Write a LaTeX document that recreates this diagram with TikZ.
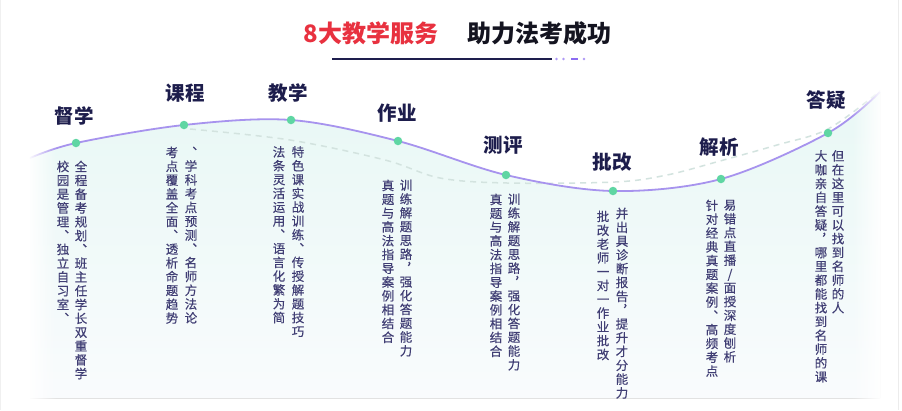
\documentclass[tikz,border=0pt]{standalone}
\usepackage{fontspec}
\setmainfont{Noto Sans CJK SC}
\newfontfamily\vertfont[RawFeature=+vert, FakeBold=0.35]{Noto Sans CJK SC}
\usetikzlibrary{fadings}
\definecolor{titlered}{HTML}{E8313F}
\definecolor{titleblack}{HTML}{141420}
\definecolor{navy}{HTML}{1E1E4E}
\definecolor{labelcol}{HTML}{1D1D4C}
\definecolor{desccol}{HTML}{403E74}
\definecolor{curvecol}{HTML}{A793EE}
\definecolor{dotcol}{HTML}{5FD6A3}
\definecolor{dashcol}{HTML}{D3E3DF}
\definecolor{accent}{HTML}{8C6CF2}
\definecolor{glowtop}{HTML}{E8F8F5}
\definecolor{glowmid}{HTML}{F1FAF9}
\definecolor{glowbot}{HTML}{F9FBFD}

\tikzfading[name=fadeoutright, left color=transparent!0, right color=transparent!100]
\tikzfading[name=fadeoutleft, left color=transparent!100, right color=transparent!0]

\ExplSyntaxOn
\NewDocumentCommand\vcol{m}{
  \vbox{
    \vertfont
    \skip_set:Nn \baselineskip {13.8pt}
    \dim_set:Nn \lineskiplimit {-20pt}
    \tl_map_inline:nn {#1}
      {
        \hbox_to_wd:nn {12.5pt} { \rule[-2.5pt]{0pt}{12.5pt} \hss ##1 \hss }
      }
  }
}
\ExplSyntaxOff

\tikzset{
  title/.style={font=\fontsize{24}{26}\selectfont\bfseries, inner sep=0pt},
  steplabel/.style={font=\fontsize{19.5}{22}\selectfont\bfseries, text=labelcol, inner sep=0pt},
  dotnode/.style={circle, fill=dotcol, minimum size=8.5pt, inner sep=0pt},
  desc/.style={font=\fontsize{12.5}{13.8}\selectfont, text=desccol, inner sep=0pt, anchor=north},
}

\begin{document}
\begin{tikzpicture}[x=1pt,y=-1pt]
\useasboundingbox (0,0) rectangle (902,410);
\fill[white] (0,0) rectangle (902,410);
\draw[gray!12, line width=1pt] (0.5,0) -- (0.5,410);
\draw[gray!15, line width=1pt] (898,0) -- (898,410);

% title
\node[title, text=titlered] (t1) at (371,33) {8大教学服务};
\node[title, text=titleblack] (t2) at (539,33) {助力法考成功};
\coordinate (u1) at (332,59);
\coordinate (u2) at (552,59);
\draw[navy, line width=2.6pt] (u1) -- (u2);
\fill[accent!70] (556.5,59) circle (1.3);
\fill[accent!70] (563.5,59) circle (1.3);
\draw[accent, line width=2.4pt] (571,59) -- (578,59);
\fill[accent!70] (584,59) circle (1.3);

% coordinates of curve
\coordinate (c0) at (30,158);
\coordinate (c9) at (880,92);
\coordinate (p1) at (76,143);
\coordinate (p2) at (184,125);
\coordinate (p3) at (291,120);
\coordinate (p4) at (398,141);
\coordinate (p5) at (506,175);
\coordinate (p6) at (613,191);
\coordinate (p7) at (721,179);
\coordinate (p8) at (828,133);

% glow under the curve
\fill[top color=glowtop, middle color=glowmid, bottom color=glowbot]
  plot[smooth, tension=0.55] coordinates {(c0) (p1) (p2) (p3) (p4) (p5) (p6) (p7) (p8) (c9)}
  -- (880,398) -- (30,398) -- cycle;

% dashed curve
\draw[dashcol, line width=1.5pt, dash pattern=on 6pt off 5pt]
  plot[smooth, tension=0.55] coordinates {(190,129) (290,140) (385,160) (440,178) (507,183) (615,182) (667,175) (720,161) (777,145) (828,129) (880,91)};

% solid curve
\draw[curvecol, line width=1.8pt]
  plot[smooth, tension=0.55] coordinates {(c0) (p1) (p2) (p3) (p4) (p5) (p6) (p7) (p8) (c9)};

% soft edges
\fill[white, path fading=fadeoutright] (28,85) rectangle (56,400);
\fill[white, path fading=fadeoutleft] (852,85) rectangle (882,400);

% dots
\foreach \i in {1,...,8} { \node[dotnode] (d\i) at (p\i) {}; }

% labels
\node[steplabel] (l1) at (74,116) {督学};
\node[steplabel] (l2) at (185,93) {课程};
\node[steplabel] (l3) at (288,93) {教学};
\node[steplabel] (l4) at (397,113) {作业};
\node[steplabel] (l5) at (503,145) {测评};
\node[steplabel] (l6) at (612,162) {批改};
\node[steplabel] (l7) at (719,147) {解析};
\node[steplabel] (l8) at (826,100) {答疑};

% descriptions
\node[desc] (a1) at (81,160.5) {\vcol{全程备考规划、班主任学长双重督学}};
\node[desc] (b1) at (63,160.5) {\vcol{校园是管理、独立自习室、}};
\node[desc] (a2) at (191,146.5) {\vcol{、学科考点预测、名师方法论}};
\node[desc] (b2) at (172,146.5) {\vcol{考点覆盖全面、透析命题趋势}};
\node[desc] (a3) at (298,146) {\vcol{特色课实战训练、传授解题技巧}};
\node[desc] (b3) at (279,146) {\vcol{法条灵活运用、语言化繁为简}};
\node[desc] (a4) at (406,179.5) {\vcol{训练解题思路，强化答题能力}};
\node[desc] (b4) at (388,179.5) {\vcol{真题与高法指导案例相结合}};
\node[desc] (a5) at (514,193.5) {\vcol{训练解题思路，强化答题能力}};
\node[desc] (b5) at (496,193.5) {\vcol{真题与高法指导案例相结合}};
\node[desc] (a6) at (622,207.5) {\vcol{并出具诊断报告，提升才分能力}};
\node[desc] (b6) at (603,210.5) {\vcol{批改老师一对一作业批改}};
\node[desc] (a7) at (730,199.5) {\vcol{易错点直播/面授深度刨析}};
\node[desc] (b7) at (712,199.5) {\vcol{针对经典真题案例、高频考点}};
\node[desc] (a8) at (838,150) {\vcol{但在这里可以找到名师的人}};
\node[desc] (b8) at (821,150) {\vcol{大咖亲自答疑，哪里都能找到名师的课}};
\end{tikzpicture}
\end{document}
